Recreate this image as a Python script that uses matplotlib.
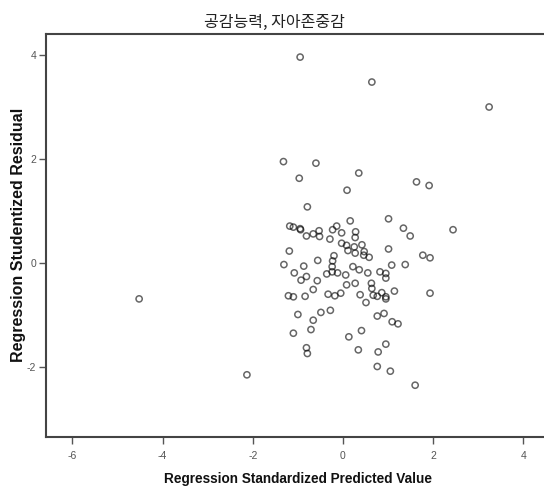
import matplotlib
matplotlib.use("Agg")
import matplotlib.pyplot as plt
from matplotlib import font_manager

# Standardized predicted value (x) and studentized residual (y)
pred = [
    -0.95, 0.64, 3.24, -4.52, -2.13, 2.44, 1.60,
    -1.32, -0.60, -0.97, 0.35, 0.09, 1.63, 1.91, -0.79, 0.16, 1.01,
    -1.18, -1.10, -0.95, -0.94, -0.81, -0.66, -0.53, -0.52, -0.23, -0.14,
    -0.03, -0.29, 0.28, 0.27, 1.34, 1.49, -1.19, -0.03, 0.08, 0.25,
    0.42, 0.11, 0.27, 0.47, 0.58, 0.46, 1.01, -0.20, -0.56, -0.23,
    -0.24, -1.31, -0.87, 0.22, 0.36, 1.08, 1.38, 1.77, 1.93, -1.08,
    -0.81, -0.93, -0.36, -0.24, -0.12, 0.06, 0.08, 0.27, 0.55, 0.82,
    0.95, 0.95, -0.57, -0.66, 0.63, 0.64, -1.21, -1.10, -0.84, -0.33,
    -0.18, -0.05, 0.38, 0.67, 0.76, 0.86, 0.95, 0.95, 1.14, 1.93,
    0.51, -1.00, -0.66, -0.49, -0.28, 0.76, 0.91, 1.09, 1.22, -1.10,
    -0.71, 0.13, 0.41, 0.95, 0.78, 0.34, -0.81, -0.79, 0.76, 1.05,
]
resid = [
    3.96, 3.48, 3.00, -0.69, -2.15, 0.64, -2.35,
    1.95, 1.92, 1.63, 1.73, 1.40, 1.56, 1.49, 1.08, 0.81, 0.85,
    0.71, 0.69, 0.66, 0.64, 0.52, 0.56, 0.62, 0.51, 0.64, 0.71,
    0.58, 0.46, 0.60, 0.49, 0.67, 0.52, 0.23, 0.38, 0.34, 0.31,
    0.35, 0.24, 0.19, 0.22, 0.11, 0.15, 0.27, 0.14, 0.05, 0.04,
    -0.07, -0.03, -0.06, -0.07, -0.13, -0.04, -0.03, 0.15, 0.10, -0.19,
    -0.26, -0.33, -0.21, -0.17, -0.19, -0.23, -0.42, -0.39, -0.19, -0.17,
    -0.20, -0.29, -0.34, -0.51, -0.39, -0.49, -0.63, -0.65, -0.64, -0.60,
    -0.63, -0.58, -0.61, -0.62, -0.64, -0.57, -0.65, -0.69, -0.54, -0.58,
    -0.76, -0.99, -1.10, -0.95, -0.91, -1.02, -0.97, -1.13, -1.17, -1.35,
    -1.28, -1.42, -1.30, -1.56, -1.71, -1.67, -1.63, -1.74, -1.99, -2.08,
]

x_ticks = [-6, -4, -2, 0, 2, 4]
y_ticks = [-2, 0, 2, 4]

title = "공감능력, 자아존중감"
x_label = "Regression Standardized Predicted Value"
y_label = "Regression Studentized Residual"

plt.rcParams["font.family"] = ["Liberation Sans", "Noto Sans CJK KR", "DejaVu Sans"]

# SPSS uses a condensed face for the x label and ticks; use Narrow if it is there
installed = {f.name for f in font_manager.fontManager.ttflist}
narrow = "Liberation Sans Narrow" if "Liberation Sans Narrow" in installed else "Liberation Sans"
print("narrow font:", narrow)

fig = plt.figure(figsize=(5.44, 4.88), dpi=100)
ax = fig.add_axes([46 / 544, 51 / 488, 1 - 46 / 544, 403 / 488])

ax.scatter(pred, resid, s=20, facecolors="none", edgecolors="black",
           linewidths=1.1, alpha=0.6, zorder=3)

ax.set_xlim(-6.585, 4.457)
ax.set_ylim(-3.346, 4.404)
ax.set_xticks(x_ticks)
ax.set_yticks(y_ticks)
ax.set_xticklabels([str(t) for t in x_ticks], family=narrow)
ax.set_yticklabels([str(t) for t in y_ticks], family=narrow)

for side in ["left", "bottom", "top"]:
    ax.spines[side].set_color("#444444")
    ax.spines[side].set_linewidth(1.5)
ax.spines["right"].set_visible(False)

ax.tick_params(axis="both", direction="out", length=5, width=1, color="#555555",
               labelsize=8.5 if narrow != "Liberation Sans" else 7.5,
               labelcolor="#555555")
ax.tick_params(axis="x", pad=5)
ax.tick_params(axis="y", pad=2)

fig.text(274 / 544, 1 - 22 / 488, title, ha="center", va="center",
         fontsize=11.5, family=["Noto Sans CJK KR", "DejaVu Sans"], color="#222222")
fig.text(298 / 544, 1 - 479 / 488, x_label, ha="center", va="center",
         fontsize=11.8 if narrow != "Liberation Sans" else 9.8,
         fontweight="bold", family=narrow, color="#111111")
fig.text(19 / 544, 1 - 235 / 488, y_label, ha="center", va="center",
         rotation=90, fontsize=11.5, fontweight="bold", color="#111111")

fig.savefig("out.png", dpi=100)
